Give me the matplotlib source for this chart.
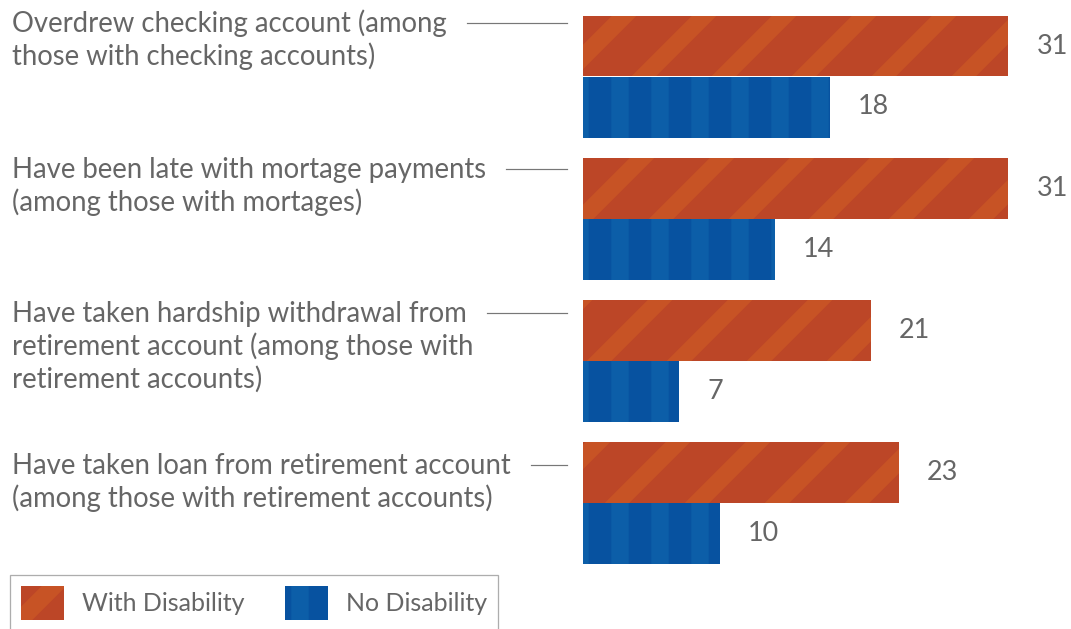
import matplotlib
matplotlib.use("Agg")
import matplotlib.pyplot as plt
import matplotlib.transforms as mtransforms
from matplotlib.patches import Patch
from matplotlib.lines import Line2D

# data
categories = [
    ["Overdrew checking account (among", "those with checking accounts)"],
    ["Have been late with mortage payments", "(among those with mortages)"],
    ["Have taken hardship withdrawal from", "retirement account (among those with",
     "retirement accounts)"],
    ["Have taken loan from retirement account",
     "(among those with retirement accounts)"],
]
with_disability = [31, 31, 21, 23]
no_disability = [18, 14, 7, 10]
series_names = ["With Disability", "No Disability"]

# colours
orange, orange_stripe = "#BC4627", "#C75325"
blue, blue_stripe = "#0752A0", "#0C5EA8"
text_grey = "#666666"

DPI = 240
W, H = 1071, 629
PX = 72 / DPI  # points per pixel

plt.rcParams["font.family"] = ["Lato", "DejaVu Sans"]
plt.rcParams["hatch.linewidth"] = 5.2
fs = 27.5 * PX
fs_val = 27 * PX
fs_leg = 25 * PX

fig = plt.figure(figsize=(W / DPI, H / DPI), dpi=DPI)
ax = fig.add_axes([583 / W, 0, 1 - 583 / W, 1])

unit_px = 13.72      # pixels per percentage point
pitch = 142.3        # pixels between groups
ax.set_xlim(0, (W - 583) / unit_px)
ax.set_ylim((H - 76.5) / pitch, -76.5 / pitch)
ax.axis("off")

bh = 61 / pitch
ypos = list(range(len(categories)))
y_or = [y - bh / 2 for y in ypos]
y_bl = [y + bh / 2 for y in ypos]

ax.barh(y_or, with_disability, height=bh, color=orange, edgecolor=orange_stripe,
        linewidth=0, hatch="/")
ax.barh(y_bl, no_disability, height=bh, color=blue, edgecolor=blue_stripe,
        linewidth=0, hatch="|")

pad = 28 / unit_px
for y, v in zip(y_or, with_disability):
    ax.text(v + pad, y, str(v), va="center", ha="left", fontsize=fs_val, color=text_grey)
for y, v in zip(y_bl, no_disability):
    ax.text(v + pad, y, str(v), va="center", ha="left", fontsize=fs_val, color=text_grey)

# category labels (left side) with leader lines
blend = mtransforms.blended_transform_factory(fig.transFigure, ax.transData)
baseline_off = [-44.5, -40.5, -39.5, -29.5]   # px from group centre to first baseline
line_gap = 33 / pitch
first_lines = []
for i, lines in enumerate(categories):
    y0 = ypos[i] + baseline_off[i] / pitch
    for k, ln in enumerate(lines):
        t = fig.text(12 / W, y0 + k * line_gap, ln, transform=blend, ha="left",
                     va="baseline", fontsize=fs, color=text_grey)
        if k == 0:
            first_lines.append((t, y0))

fig.canvas.draw()
r = fig.canvas.get_renderer()
for t, y0 in first_lines:
    x_end = t.get_window_extent(r).x1 / W
    ly = y0 - 9 / pitch
    fig.add_artist(Line2D([x_end + 20 / W, 567 / W], [ly, ly], transform=blend,
                          color="#777777", linewidth=1.2 * PX))

handles = [
    Patch(facecolor=orange, edgecolor=orange_stripe, linewidth=0, hatch="/"),
    Patch(facecolor=blue, edgecolor=blue_stripe, linewidth=0, hatch="|"),
]
leg = fig.legend(handles, series_names, loc="lower left",
                 bbox_to_anchor=(10 / W, -2 / H), borderaxespad=0, ncol=2,
                 fontsize=fs_leg, frameon=True, fancybox=False, borderpad=0.45,
                 handlelength=1.72, handleheight=1.7, handletextpad=0.72,
                 columnspacing=1.6, labelcolor=text_grey)
leg.get_frame().set_edgecolor("#999999")
leg.get_frame().set_linewidth(1.3 * PX)

fig.savefig("out.png", dpi=DPI)
